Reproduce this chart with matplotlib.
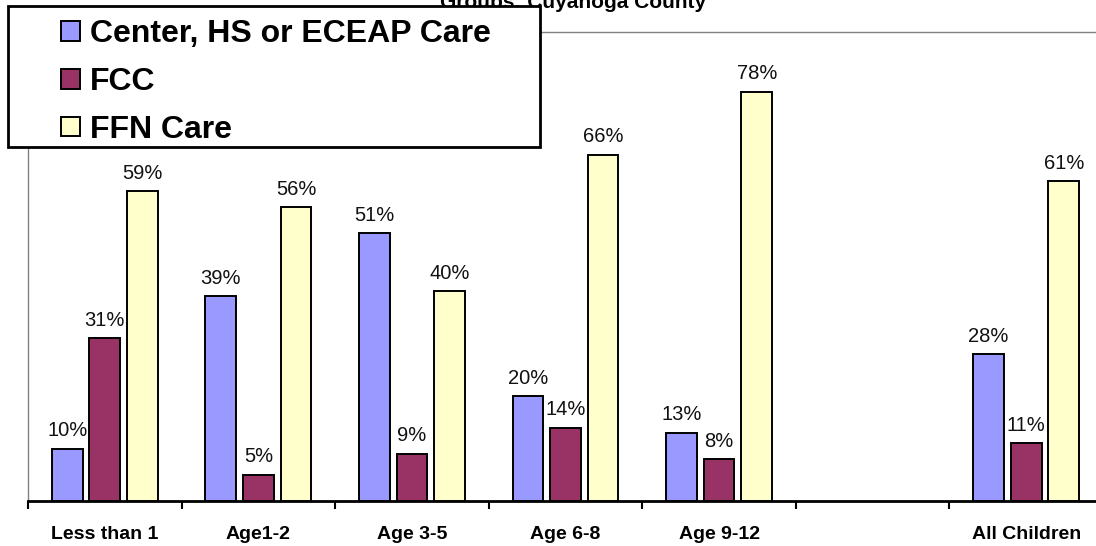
import numpy as np
import matplotlib
matplotlib.use("Agg")
import matplotlib.pyplot as plt
from matplotlib.patches import Rectangle, Patch

plt.rcParams['font.family'] = ['Liberation Sans', 'DejaVu Sans']

categories = ['Less than 1', 'Age1-2', 'Age 3-5', 'Age 6-8', 'Age 9-12', '', 'All Children']
series_names = ['Center, HS or ECEAP Care', 'FCC', 'FFN Care']
center_care = [10, 39, 51, 20, 13, np.nan, 28]
fcc_care = [31, 5, 9, 14, 8, np.nan, 11]
ffn_care = [59, 56, 40, 66, 78, np.nan, 61]
colors = ['#9999FF', '#993366', '#FFFFCC']
title_text = 'Groups: Cuyahoga County'

W, H = 1096, 546
fig = plt.figure(figsize=(W / 100, H / 100), dpi=100)
ax_left, ax_right, ax_bottom, ax_top = 28, 1103, 501, 32
ax = fig.add_axes([ax_left / W, (H - ax_bottom) / H,
                   (ax_right - ax_left) / W, (ax_bottom - ax_top) / H])

x = np.arange(len(categories))
offsets = [-0.245, 0.0, 0.245]
bw = 0.2
for vals, off, col in zip([center_care, fcc_care, ffn_care], offsets, colors):
    ax.bar(x + off, vals, width=bw, color=col, edgecolor='black', linewidth=1.4, zorder=3)
    for xi, v in zip(x + off, vals):
        if np.isnan(v):
            continue
        ax.annotate(f'{int(v)}%', xy=(xi, v), xytext=(0, 6), textcoords='offset points',
                    ha='center', va='bottom', fontsize=14.5, color='#111111')

ax.set_xlim(-0.5, len(categories) - 0.5)
ax.set_ylim(0, 89.4)
ax.set_yticks([])
ax.set_xticks(x)
ax.set_xticklabels(categories, fontsize=14, fontweight='bold')
ax.set_xticks(np.arange(-0.5, len(categories) + 0.5, 1), minor=True)
ax.tick_params(axis='x', which='major', length=0, pad=18)
ax.tick_params(axis='x', which='minor', length=6, width=1.5, color='black', direction='out')

for s in ['left', 'top', 'right']:
    ax.spines[s].set_color('#808080')
    ax.spines[s].set_linewidth(1.0)
ax.spines['bottom'].set_color('black')
ax.spines['bottom'].set_linewidth(2.0)

fig.text(573 / W, 1 - 8 / H, title_text, ha='center', va='baseline',
         fontsize=15, fontweight='bold')

# legend box
lx0, ly0, lx1, ly1 = 8, 6, 540, 147
fig.patches.append(Rectangle((lx0 / W, 1 - ly1 / H), (lx1 - lx0) / W, (ly1 - ly0) / H,
                             transform=fig.transFigure, facecolor='white',
                             edgecolor='black', linewidth=2.0, zorder=5))
handles = [Patch(facecolor=c, edgecolor='black', linewidth=1.4) for c in colors]
leg = fig.legend(handles, series_names, loc='upper left',
                 bbox_to_anchor=(61 / W, 1 - 19 / H), frameon=False,
                 prop={'weight': 'bold', 'size': 23},
                 handlelength=0.58, handleheight=0.58, handletextpad=0.32,
                 labelspacing=0.56, borderpad=0.0, borderaxespad=0.0)
leg.set_zorder(6)

fig.savefig('out.png', dpi=100)
